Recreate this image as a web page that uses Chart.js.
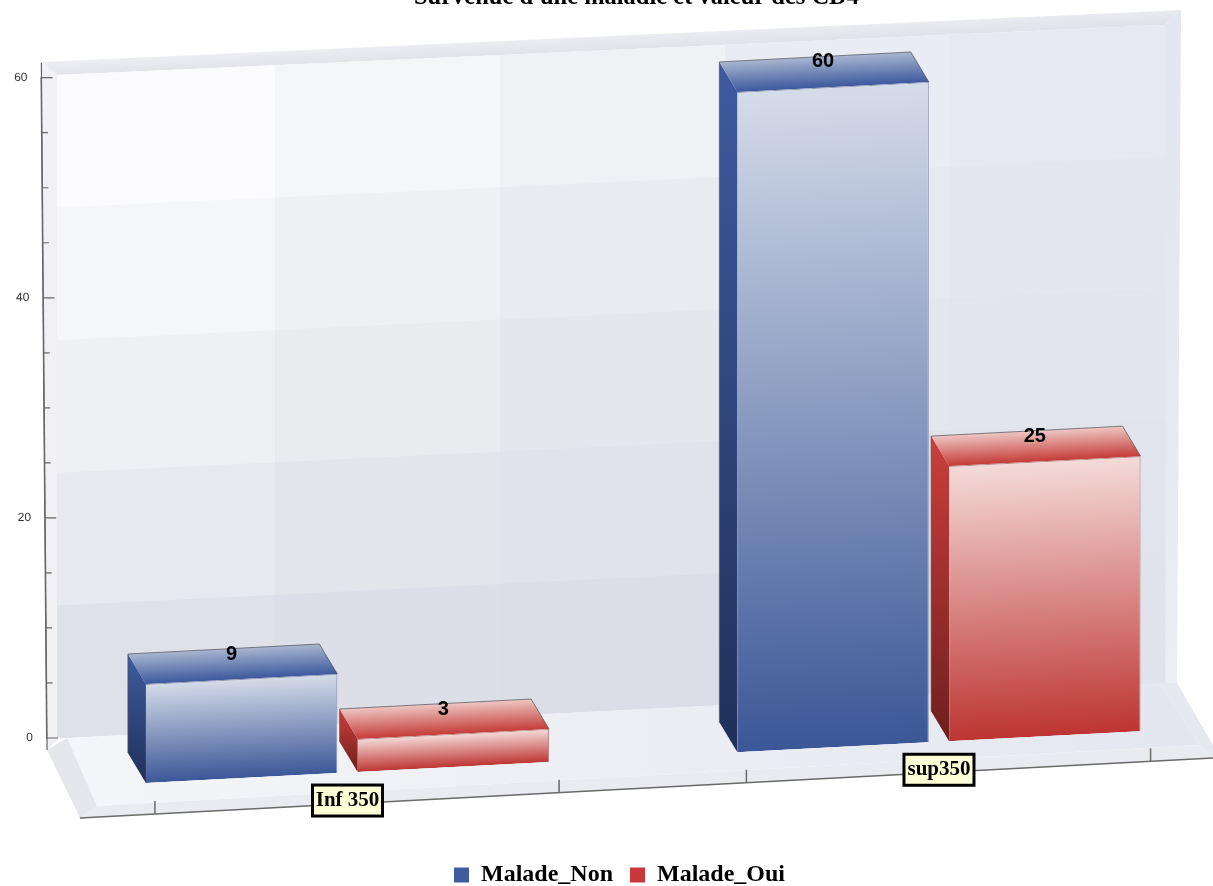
<!DOCTYPE html>
<html>
<head>
<meta charset="utf-8">
<title>Survenue d'une maladie et valeur des CD4</title>
<script src="https://cdn.jsdelivr.net/npm/chart.js@4/dist/chart.umd.min.js"></script>
<style>
  html, body { margin: 0; padding: 0; background: #fff; overflow: hidden; }
  canvas { display: block; }
</style>
</head>
<body>
<canvas id="cd4Chart" width="1213" height="886"></canvas>
<script>
// data
var categories = ['Inf 350', 'sup350'];
var maladeNon = [9, 60];
var maladeOui = [3, 25];
var seriesNames = ['Malade_Non', 'Malade_Oui'];
var titleText = "Survenue d'une maladie et valeur des CD4";

// colours of each series: front, top and side faces
var faces = [
  { solid: '#3f5c9f', front: ['#d5dce9', '#3b5797'], top: ['#a9b6d0', '#3f5b9f'], side: ['#3f5ba0', '#1f3059'], edge: '#8b93a8' },
  { solid: '#c8383a', front: ['#f4dbd9', '#bd3532'], top: ['#edc6c3', '#c63f3b'], side: ['#cb3f3c', '#6e1f1e'], edge: '#b98380' }
];

// the bars stand on a plane in front of the wall, slanted like the rest of the picture
var plane = { sx: 1.0534, b: -0.0548, e: 2.25, f: 52.5 };
var depth = [-18, -30];
var axisLean = 5.5 / 660;

function project(x, y) {
  return [plane.sx * x + plane.e, plane.b * x + y + plane.f];
}
function shifted(p) {
  return [p[0] + depth[0], p[1] + depth[1]];
}
function poly(ctx, pts) {
  ctx.beginPath();
  ctx.moveTo(pts[0][0], pts[0][1]);
  for (var i = 1; i < pts.length; i++) ctx.lineTo(pts[i][0], pts[i][1]);
  ctx.closePath();
}
function fillPoly(ctx, pts, color) {
  poly(ctx, pts);
  ctx.fillStyle = color;
  ctx.fill();
}

// wall panels, lightest in the top left corner
var wallColors = [
  ['#fbfbfd', '#f4f6f8', '#eff1f5', '#e9ecf2', '#e6e9f0'],
  ['#f5f6f9', '#eef0f3', '#e9ebf0', '#e6e9f0', '#e4e7ef'],
  ['#eef0f3', '#e9ebef', '#e5e7ed', '#e3e6ee', '#e2e5ed'],
  ['#e7e9ee', '#e3e5eb', '#e1e3ea', '#e0e3eb', '#e1e4ec'],
  ['#dfe1e9', '#dcdfe8', '#dbdee7', '#dde0e9', '#e0e3ec']
];
var wallCols = [57, 275, 500, 725, 950, 1165];

function wallY(x, t) {
  // t = 0 top edge, t = 1 bottom edge of the inner wall
  var u = (x - 57) / (1165 - 57);
  var top = 75 - 50 * u;
  var bottom = 738 - 55 * u;
  return top + (bottom - top) * t;
}

function drawRoom(ctx) {
  // outer bevels of the wall
  var tb = ctx.createLinearGradient(600, 30, 601, 50);
  tb.addColorStop(0, '#f0f1f5');
  tb.addColorStop(1, '#e1e3e9');
  fillPoly(ctx, [[42, 62], [1181, 10], [1165, 25], [57, 75]], tb);
  fillPoly(ctx, [[42, 62], [57, 75], [60, 738], [47, 750]], '#f1f1f5');
  var rb = ctx.createLinearGradient(0, 10, 0, 690);
  rb.addColorStop(0, '#e2e6ef');
  rb.addColorStop(0.6, '#e6e9f1');
  rb.addColorStop(1, '#eeeef5');
  fillPoly(ctx, [[1181, 10], [1177, 690], [1160, 683], [1165, 25]], rb);

  for (var r = 0; r < 5; r++) {
    for (var c = 0; c < 5; c++) {
      var x0 = wallCols[c], x1 = wallCols[c + 1];
      fillPoly(ctx, [[x0, wallY(x0, r / 5)], [x1 + 0.5, wallY(x1, r / 5)], [x1 + 0.5, wallY(x1, (r + 1) / 5) + 0.5], [x0, wallY(x0, (r + 1) / 5) + 0.5]], wallColors[r][c]);
    }
  }

  // floor
  var fl = ctx.createLinearGradient(60, 0, 1200, 0);
  fl.addColorStop(0, '#f5f6f9');
  fl.addColorStop(0.5, '#eceef3');
  fl.addColorStop(1, '#e4e7ef');
  fillPoly(ctx, [[67, 738], [1160, 683], [1200, 745], [97, 806]], fl);
  fillPoly(ctx, [[47, 750], [67, 738], [97, 806], [80, 818]], '#e6e7ec');
  fillPoly(ctx, [[80, 818], [97, 806], [1200, 745], [1213, 758]], '#e9ebf1');
  fillPoly(ctx, [[1160, 683], [1177, 683], [1213, 745], [1213, 758], [1200, 745]], '#e6e8ef');
}

function drawSideAndTop(chart) {
  var ctx = chart.ctx;
  chart.data.datasets.forEach(function (ds, d) {
    chart.getDatasetMeta(d).data.forEach(function (bar) {
      var left = bar.x - bar.width / 2, right = bar.x + bar.width / 2;
      var fl = project(left, bar.y), fr = project(right, bar.y), bl = project(left, bar.base);

      var g = ctx.createLinearGradient(0, fl[1] + depth[1], 0, bl[1]);
      g.addColorStop(0, faces[d].side[0]);
      g.addColorStop(1, faces[d].side[1]);
      var side = [fl, bl, shifted(bl), shifted(fl)];
      fillPoly(ctx, side, g);

      var mx = (fl[0] + fr[0]) / 2 + depth[0], my = (fl[1] + fr[1]) / 2 + depth[1];
      var t = ctx.createLinearGradient(mx, my, mx + 0.052 * 30, my + 30);
      t.addColorStop(0, faces[d].top[0]);
      t.addColorStop(1, faces[d].top[1]);
      var top = [fl, fr, shifted(fr), shifted(fl)];
      fillPoly(ctx, top, t);

      ctx.strokeStyle = 'rgba(80,80,90,0.7)';
      ctx.lineWidth = 1;
      ctx.beginPath();
      ctx.moveTo(shifted(bl)[0], shifted(bl)[1]);
      ctx.lineTo(shifted(fl)[0], shifted(fl)[1]);
      ctx.lineTo(shifted(fr)[0], shifted(fr)[1]);
      ctx.lineTo(fr[0], fr[1]);
      ctx.stroke();
    });
  });
}

function drawValues(chart) {
  var ctx = chart.ctx;
  ctx.font = 'bold 20px "Liberation Sans"';
  ctx.fillStyle = '#000';
  ctx.textAlign = 'center';
  ctx.textBaseline = 'middle';
  chart.data.datasets.forEach(function (ds, d) {
    chart.getDatasetMeta(d).data.forEach(function (bar, i) {
      var p = project(bar.x, bar.y);
      ctx.fillText(ds.data[i], p[0] - 10, p[1] - 25);
    });
  });
}

function floorLineY(x) {
  return 818 - (60 / 1133) * (x - 80);
}

function drawXAxis(chart) {
  var ctx = chart.ctx, x = chart.scales.x, y = chart.scales.y;
  ctx.strokeStyle = '#6a6a6a';
  ctx.lineWidth = 1.5;
  ctx.beginPath();
  ctx.moveTo(80, floorLineY(80));
  ctx.lineTo(1213, floorLineY(1213));
  ctx.stroke();

  var firstBars = chart.getDatasetMeta(0).data, lastBars = chart.getDatasetMeta(1).data;
  categories.forEach(function (name, i) {
    var a = project(firstBars[i].x - firstBars[i].width / 2, 0)[0] + 9;
    var c = project(lastBars[i].x + lastBars[i].width / 2, 0)[0] + 10;
    [a, c].forEach(function (px) {
      ctx.beginPath();
      ctx.moveTo(px, floorLineY(px));
      ctx.lineTo(px, floorLineY(px) - 13);
      ctx.stroke();
    });
  });

  // category labels in their little yellow boxes
  ctx.font = 'bold 21px "Liberation Serif"';
  ctx.textAlign = 'center';
  ctx.textBaseline = 'middle';
  categories.forEach(function (name, i) {
    var p = project(x.getPixelForTick(i), y.getPixelForValue(0));
    var cy = p[1] + 28;
    ctx.fillStyle = '#ffffd8';
    ctx.fillRect(p[0] - 35, cy - 15.5, 70, 31);
    ctx.strokeStyle = '#000';
    ctx.lineWidth = 3;
    ctx.strokeRect(p[0] - 35, cy - 15.5, 70, 31);
    ctx.fillStyle = '#000';
    ctx.fillText(name, p[0], cy);
  });
}

function drawYTicks(chart) {
  var ctx = chart.ctx, y = chart.scales.y;
  ctx.save();
  ctx.transform(1, 0, axisLean, 1, -axisLean * y.bottom, 0);
  ctx.strokeStyle = '#666';
  ctx.lineWidth = 1.2;
  y.ticks.forEach(function (t) {
    var py = y.getPixelForValue(t.value);
    ctx.beginPath();
    ctx.moveTo(y.right, py);
    ctx.lineTo(y.right + (t.value % 20 === 0 ? 11 : 6), py);
    ctx.stroke();
  });
  // the axis runs on a little past both ends of the scale
  ctx.beginPath();
  ctx.moveTo(y.right, y.top - 15);
  ctx.lineTo(y.right, y.bottom + 12);
  ctx.stroke();
  ctx.restore();
}

var roomPlugin = {
  id: 'room',
  afterLayout: function (chart) {
    // title and legend do not sit on the middle of the canvas
    chart.titleBlock.left += 51.5;
    chart.titleBlock.right += 51.5;
    chart.legend.left += 34.5;
    chart.legend.right += 34.5;
    chart.legend.top += 11;
    chart.legend.bottom += 11;
  },
  beforeDraw: function (chart) {
    var y = chart.scales.y, ctx = chart.ctx;
    drawRoom(ctx);
    if (!y.leanWrapped) {
      // lean the value axis labels with the wall
      y.leanWrapped = true;
      ['drawBorder', 'drawLabels'].forEach(function (name) {
        var orig = y[name];
        y[name] = function (area) {
          ctx.save();
          ctx.transform(1, 0, axisLean, 1, -axisLean * y.bottom, 0);
          orig.call(y, area);
          ctx.restore();
        };
      });
    }
    drawYTicks(chart);
  },
  beforeDatasetsDraw: function (chart) {
    var ctx = chart.ctx;
    drawXAxis(chart);
    drawSideAndTop(chart);
    ctx.save();
    ctx.transform(plane.sx, plane.b, 0, 1, plane.e, plane.f);
  },
  afterDatasetsDraw: function (chart) {
    chart.ctx.restore();
    drawValues(chart);
  }
};

function frontGradient(d) {
  return function (c) {
    var y = c.chart.scales.y;
    if (c.dataIndex === undefined || !y) return faces[d].solid;
    var g = c.chart.ctx.createLinearGradient(0, y.getPixelForValue(c.raw), 0, y.getPixelForValue(0));
    g.addColorStop(0, faces[d].front[0]);
    g.addColorStop(1, faces[d].front[1]);
    return g;
  };
}

var ctx = document.getElementById('cd4Chart');
var cd4Chart = new Chart(ctx, {
  type: 'bar',
  data: {
    labels: categories,
    datasets: [{
      label: seriesNames[0],
      data: maladeNon,
      backgroundColor: frontGradient(0),
      borderColor: faces[0].edge,
      borderWidth: { top: 1, right: 1, left: 0, bottom: 0 }
    }, {
      label: seriesNames[1],
      data: maladeOui,
      backgroundColor: frontGradient(1),
      borderColor: faces[1].edge,
      borderWidth: { top: 1, right: 1, left: 0, bottom: 0 }
    }]
  },
  options: {
    responsive: false,
    animation: false,
    categoryPercentage: 0.716,
    barPercentage: 0.904,
    layout: { padding: { left: 0, right: 43, top: 0, bottom: 0 } },
    plugins: {
      title: {
        display: true,
        text: titleText,
        color: '#000',
        font: { family: '"Liberation Serif"', size: 24.5, weight: 'bold', lineHeight: 1.15 },
        padding: { top: -16, bottom: 65.5 }
      },
      legend: {
        position: 'bottom',
        labels: {
          color: '#000',
          font: { family: '"Liberation Serif"', size: 24, weight: 'bold' },
          boxWidth: 15,
          boxHeight: 15,
          padding: 17,
          generateLabels: function (chart) {
            return seriesNames.map(function (name, i) {
              return { text: name, fillStyle: faces[i].solid, strokeStyle: faces[i].solid, fontColor: '#000', lineWidth: 0, datasetIndex: i };
            });
          }
        }
      },
      tooltip: { enabled: false }
    },
    scales: {
      x: {
        ticks: { display: false },
        grid: { display: false },
        border: { display: false },
        afterFit: function (scale) { scale.height = 97; }
      },
      y: {
        min: 0,
        max: 60,
        ticks: {
          stepSize: 5,
          autoSkip: false,
          padding: 14,
          color: '#333',
          font: { family: '"Liberation Sans"', size: 12 },
          callback: function (v) { return v % 20 === 0 ? v : ''; }
        },
        grid: { display: false, drawTicks: false },
        border: { display: true, color: '#666', width: 1.2 },
        afterFit: function (scale) { scale.width = 47; }
      }
    }
  },
  plugins: [roomPlugin]
});
</script>
</body>
</html>
